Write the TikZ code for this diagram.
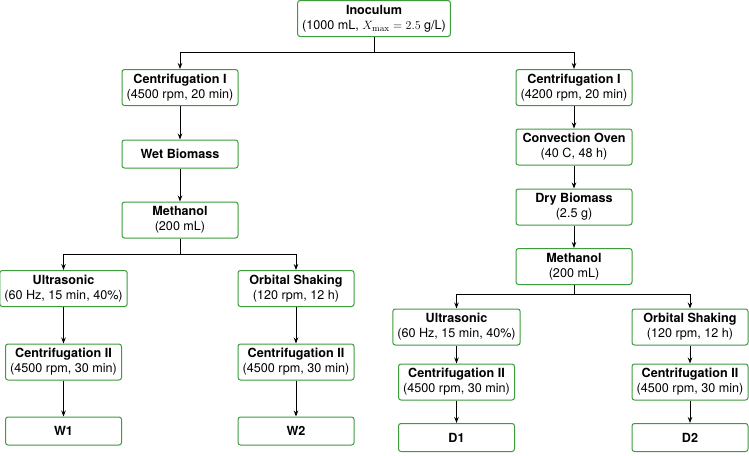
\documentclass[tikz,border=0pt]{standalone}
\usepackage[no-math]{fontspec}
\setmainfont{TeX Gyre Heros}
\usetikzlibrary{arrows.meta}
\definecolor{boxgreen}{RGB}{60,155,60}
\tikzset{
  stage/.style={draw=boxgreen, line width=1pt, rounded corners=2.5pt, fill=white,
    align=center, minimum width=116pt, minimum height=36pt, inner xsep=4.5pt, inner ysep=3pt,
    font=\fontsize{12.6}{15}\selectfont},
  stageone/.style={stage, minimum height=28pt},
  link/.style={line width=0.9pt},
  flow/.style={link, -{Stealth[length=6pt,width=4.5pt]}}
}
\begin{document}
\begin{tikzpicture}[x=1pt,y=-1pt]
	\useasboundingbox (0,0) rectangle (749,455);
	% top
	\node[stage](inoc) at (374,18.5){\textbf{Inoculum}\\(1000 mL, $X_{\max} = 2.5$ g/L)};
	\coordinate(splitTop) at (374,52);
	
	% wet route
	\node[stage](cenL) at (180,87.5){\textbf{Centrifugation I}\\(4500 rpm, 20 min)};
	\node[stageone](wetL) at (180,154){\textbf{Wet Biomass}};
	\node[stage](methL) at (180,220){\textbf{Methanol}\\(200 mL)};
	\coordinate(splitL) at (180,254);
	\node[stage](ultL) at (63.5,288.5){\textbf{Ultrasonic}\\(60 Hz, 15 min, 40\%)};
	\node[stage](orbL) at (296,288.5){\textbf{Orbital Shaking}\\(120 rpm, 12 h)};
	\node[stage](cenIIL) at (63.5,362){\textbf{Centrifugation II}\\(4500 rpm, 30 min)};
	\node[stage](cenIILb) at (296,362){\textbf{Centrifugation II}\\(4500 rpm, 30 min)};
	\node[stageone](wOne) at (63.5,431){\textbf{W1}};
	\node[stageone](wTwo) at (296,431){\textbf{W2}};
	
	% dry route
	\node[stage](cenR) at (574,87.5){\textbf{Centrifugation I}\\(4200 rpm, 20 min)};
	\node[stage](oven) at (574,147){\textbf{Convection Oven}\\(40 C, 48 h)};
	\node[stage](dryR) at (574,207){\textbf{Dry Biomass}\\(2.5 g)};
	\node[stage](methR) at (574,266.5){\textbf{Methanol}\\(200 mL)};
	\coordinate(splitR) at (574,294);
	\node[stage](ultR) at (456.5,327){\textbf{Ultrasonic}\\(60 Hz, 15 min, 40\%)};
	\node[stage](orbR) at (690,327){\textbf{Orbital Shaking}\\(120 rpm, 12 h)};
	\node[stage](cenIIR) at (456.5,382){\textbf{Centrifugation II}\\(4500 rpm, 30 min)};
	\node[stage](cenIIRb) at (690,382){\textbf{Centrifugation II}\\(4500 rpm, 30 min)};
	\node[stageone](dOne) at (456.5,437.5){\textbf{D1}};
	\node[stageone](dTwo) at (690,437.5){\textbf{D2}};
	
	\draw[link] (inoc)--(splitTop);
	\draw[flow] (splitTop)-|(cenL);
	\draw[flow] (splitTop)-|(cenR);
	
	\draw[flow] (cenL)--(wetL);
	\draw[flow] (wetL)--(methL);
	\draw[link] (methL)--(splitL);
	\draw[flow] (splitL)-|(ultL);
	\draw[flow] (splitL)-|(orbL);
	\draw[flow] (ultL)--(cenIIL);
	\draw[flow] (orbL)--(cenIILb);
	\draw[flow] (cenIIL)--(wOne);
	\draw[flow] (cenIILb)--(wTwo);
	
	\draw[flow] (cenR)--(oven);
	\draw[flow] (oven)--(dryR);
	\draw[flow] (dryR)--(methR);
	\draw[link] (methR)--(splitR);
	\draw[flow] (splitR)-|(ultR);
	\draw[flow] (splitR)-|(orbR);
	\draw[flow] (ultR)--(cenIIR);
	\draw[flow] (orbR)--(cenIIRb);
	\draw[flow] (cenIIR)--(dOne);
	\draw[flow] (cenIIRb)--(dTwo);
\end{tikzpicture}
\end{document}
